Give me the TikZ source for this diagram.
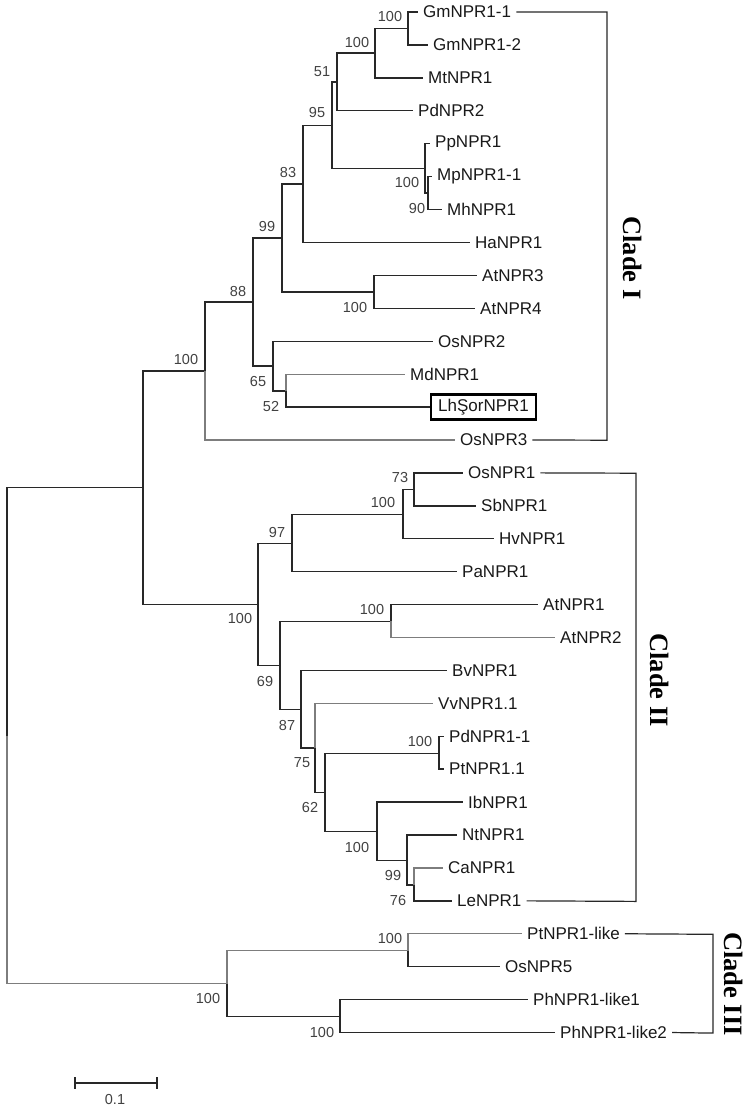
\documentclass[tikz,border=0pt]{standalone}
\usepackage{fontspec}
\setmainfont{Liberation Sans}
\newfontfamily\cladefont{Liberation Serif}
\usepackage{tikz}
\usetikzlibrary{calc}
\definecolor{treeline}{RGB}{40,40,40}
\definecolor{treegray}{RGB}{125,125,125}
\definecolor{treetext}{RGB}{25,25,25}
\definecolor{bootgray}{RGB}{65,65,65}

\begin{document}
\begin{tikzpicture}[x=1pt,y=-1pt,
  br/.style={treeline,line width=1.4pt},
  brl/.style={treegray,line width=1.2pt},
  leaf/.style={anchor=west,inner xsep=5pt,inner ysep=2pt,text=treetext,font=\fontsize{17}{20}\selectfont},
  boot/.style={text=bootgray,inner sep=0pt,font=\fontsize{14.5}{17}\selectfont},
  clade/.style={rotate=-90,text=black,font=\cladefont\bfseries\fontsize{26.5}{30}\selectfont}]
  \useasboundingbox (0,0) rectangle (750,1110);

  % taxa: name/row/branch end/label
  \foreach \nm/\k/\x/\txt in {gma/0/418/GmNPR1-1, gmb/1/428/GmNPR1-2, mt/2/423/MtNPR1,
      pdb/3/413/PdNPR2, pp/4/430/PpNPR1, mp/5/432/MpNPR1-1, mh/6/442/MhNPR1,
      ha/7/470/HaNPR1, atc/8/477/AtNPR3, atd/9/475/AtNPR4, osb/10/433/OsNPR2,
      md/11/405/MdNPR1, osc/13/455/OsNPR3, osa/14/463/OsNPR1, sb/15/476/SbNPR1,
      hv/16/494/HvNPR1, pa/17/457/PaNPR1, ata/18/538/AtNPR1, atb/19/555/AtNPR2,
      bv/20/447/BvNPR1, vv/21/433/VvNPR1.1, pda/22/444/PdNPR1-1, pt/23/444/PtNPR1.1,
      ib/24/463/IbNPR1, nt/25/457/NtNPR1, ca/26/443/CaNPR1, le/27/452/LeNPR1,
      ptl/28/522/PtNPR1-like, ose/29/500/OsNPR5, pha/30/528/PhNPR1-like1,
      phb/31/555/PhNPR1-like2}
    \node[leaf] (\nm) at (\x,{12+32.92*\k}) {\txt};
  \node[leaf,draw=black,line width=2.4pt,inner xsep=7pt,minimum height=25pt] (lh) at (430,{12+32.92*12}) {LhŞorNPR1};

  % internal nodes
  \coordinate (root) at (7,735.7);
  \coordinate (clab) at (143,487.7);
  \coordinate (cla) at (205,371.1);
  \coordinate (n88) at (253,302);
  \coordinate (n99) at (282,238);
  \coordinate (n83) at (303,184);
  \coordinate (n95) at (332,125.3);
  \coordinate (n51) at (337,82);
  \coordinate (gmt) at (375,53.2);
  \coordinate (gmn) at (408,28.5);
  \coordinate (ppc) at (425,168.5);
  \coordinate (mph) at (428,193.2);
  \coordinate (at34) at (374,292);
  \coordinate (n65) at (273,366.1);
  \coordinate (mdlh) at (286,390.8);
  \coordinate (clb) at (258,604.3);
  \coordinate (n97) at (292,543.2);
  \coordinate (oshv) at (403,514.3);
  \coordinate (ossb) at (414,489.6);
  \coordinate (n69) at (280,665.4);
  \coordinate (at12) at (391,621.4);
  \coordinate (n87) at (301,709.4);
  \coordinate (n75) at (315,748);
  \coordinate (n62) at (325,792.3);
  \coordinate (pdpt) at (439,753.2);
  \coordinate (ibc) at (377,831.4);
  \coordinate (n99b) at (407,860.2);
  \coordinate (cale) at (414,884.9);
  \coordinate (clc) at (227,983.7);
  \coordinate (ptos) at (408,950.8);
  \coordinate (phn) at (340,1016.7);

  % branches
  \foreach \p/\c in {root/clab, clab/cla, clab/clb, cla/n88, n88/n99, n88/n65,
      n99/n83, n99/at34, n83/n95, n83/ha, n95/n51, n95/ppc, n51/gmt, n51/pdb,
      gmt/gmn, gmt/mt, gmn/gma, gmn/gmb, ppc/pp, ppc/mph, mph/mp, mph/mh,
      at34/atc, at34/atd, n65/osb, n65/mdlh, mdlh/lh, clb/n97, clb/n69,
      n97/oshv, n97/pa, oshv/ossb, oshv/hv, ossb/osa, ossb/sb, n69/at12, n69/n87,
      at12/ata, n87/bv, n87/n75, n75/n62, n62/pdpt, n62/ibc, pdpt/pda, pdpt/pt,
      ibc/ib, ibc/n99b, n99b/nt, n99b/cale, cale/le, clc/phn, ptos/ose,
      phn/pha, phn/phb}
    \draw[br] (\p) |- (\c);
  \foreach \p/\c in {root/clc, clc/ptos, cla/osc, mdlh/md, at12/atb, n75/vv,
      cale/ca, ptos/ptl}
    \draw[brl] (\p) |- (\c);

  % bootstrap values
  \foreach \nm/\x/\y/\v in {gmn/390/17/100, gmt/357/43/100, n51/322/72/51,
      n95/317/113/95, n83/288/173/83, n99/267/227/99, n88/238/292/88,
      cla/186/360/100, ppc/407/183/100, mph/417/209/90, at34/355/308/100,
      n65/258/382/65, mdlh/271/407/52, clb/240/619/100, n97/277/533/97,
      oshv/383/503/100, ossb/400/478/73, at12/372/610/100, n69/265/682/69,
      n87/287/725/87, n75/302/763/75, n62/310/807/62, pdpt/420/741/100,
      ibc/357/847/100, n99b/393/875/99, cale/398/900/76, clc/208/998/100,
      ptos/390/938/100, phn/322/1032/100}
    \node[boot] (b\nm) at (\x,\y) {\v};

  % clade brackets
  \coordinate (ka) at (607,12);
  \coordinate (kb) at (607,440.2);
  \coordinate (kc) at (636,473.2);
  \coordinate (kd) at (636,901.4);
  \coordinate (ke) at (713,934.3);
  \coordinate (kf) at (713,1033.1);
  \draw[br,line width=1.2pt] (gma.east) -- (ka) -- (kb) -- (osc.east);
  \draw[br,line width=1.2pt] (osa.east) -- (kc) -- (kd) -- (le.east);
  \draw[br,line width=1.2pt] (ptl.east) -- (ke) -- (kf) -- (phb.east);
  \node[clade] (cladeI) at (633,258) {Clade I};
  \node[clade] (cladeII) at (660,680) {Clade II};
  \node[clade] (cladeIII) at (734,984) {Clade III};

  % scale bar
  \coordinate (sba) at (75,1083);
  \coordinate (sbb) at (157,1083);
  \draw[br] (sba) -- (sbb);
  \draw[br] ($(sba)+(0,-6)$) -- ($(sba)+(0,6)$);
  \draw[br] ($(sbb)+(0,-6)$) -- ($(sbb)+(0,6)$);
  \node[boot] (sbl) at (115,1099) {0.1};
\end{tikzpicture}
\end{document}
